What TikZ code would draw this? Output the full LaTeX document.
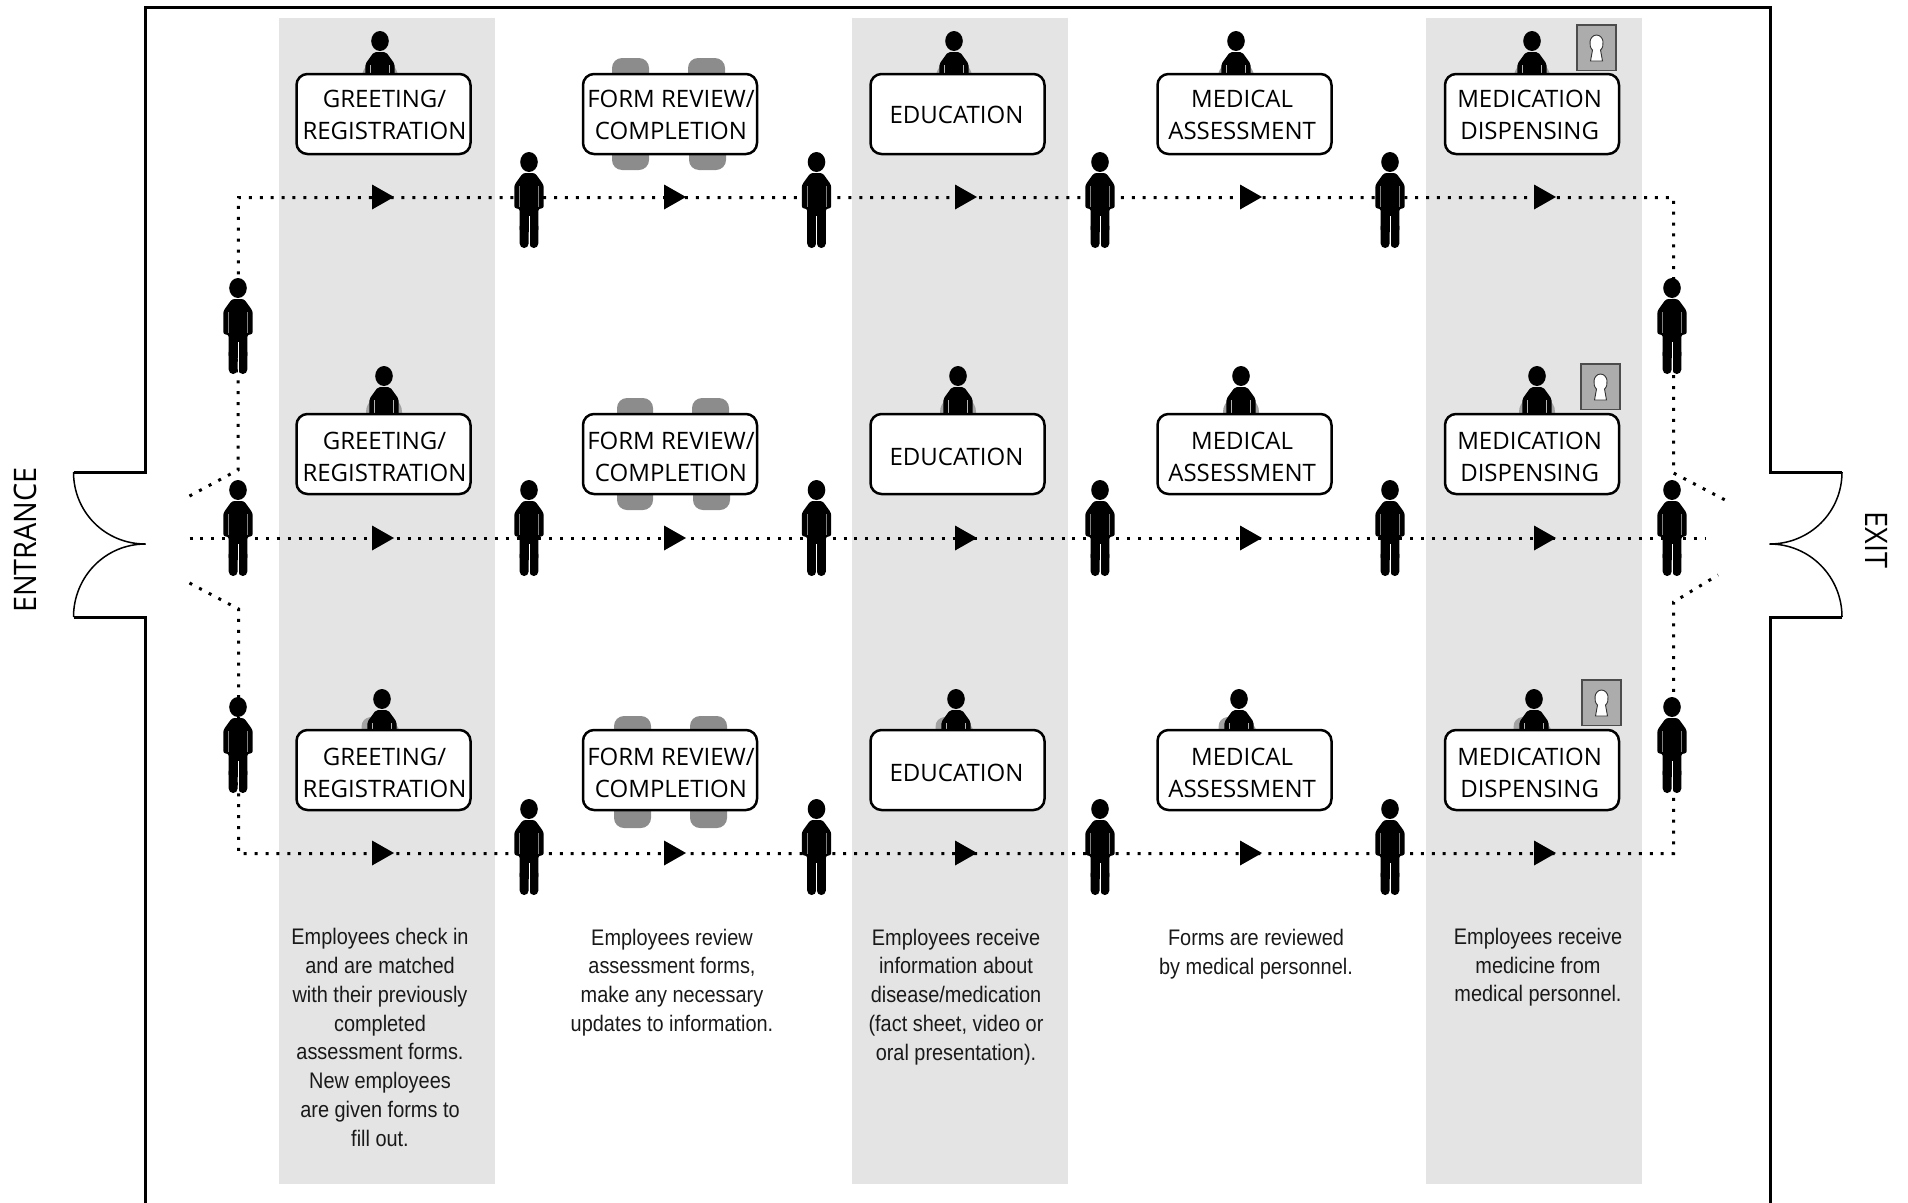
\documentclass[tikz,border=0pt]{standalone}
\usepackage{fontspec}
\newfontfamily\boxfont{Open Sans}
\newfontfamily\sidefont[FakeStretch=0.93]{Open Sans}
\newfontfamily\capfont[FakeStretch=0.885]{Liberation Sans}
\definecolor{band}{HTML}{E4E4E4}
\definecolor{chair}{HTML}{8C8C8C}
\definecolor{lockg}{HTML}{ACACAC}
\tikzset{
  wall/.style={line width=3pt,line join=miter},
  doorleaf/.style={line width=1.5pt},
  path line/.style={line width=3pt,dash pattern=on 3pt off 7.9pt},
  stationbox/.style={draw=black,line width=2.5pt,fill=white,rounded corners=11pt,minimum width=174pt,minimum height=80pt,inner sep=0pt},
  stationtext/.style={inner sep=0pt,align=center,font=\boxfont\fontsize{24}{32}\selectfont},
  captiontext/.style={inner sep=0pt,align=center,font=\capfont\fontsize{22.5}{28.8}\selectfont,text=black!90},
  sidelabel/.style={inner sep=0pt,font=\sidefont\fontsize{31}{31}\selectfont},
  person/.pic={
    \fill[black] (0,0) ellipse[x radius=8.8,y radius=10];
    \fill[black,rounded corners=2.5pt] (-6,11)--(6,11)--(14.7,23)--(14.7,46.5)--(9.3,46.5)--(9.3,70)--(-9.3,70)--(-9.3,46.5)--(-14.7,46.5)--(-14.7,23)--cycle;
    \fill[black,rounded corners=4.4pt] (-9.3,60) rectangle (-.4,86);
    \fill[black,rounded corners=4.4pt] (.4,60) rectangle (9.3,86);
    \fill[black] (-9.3,50) rectangle (9.3,66);
    \draw[white,line width=.8pt] (0,54)--(0,86);
    \draw[gray,line width=.7pt] (-9.4,24)--(-9.4,45) (9.4,24)--(9.4,45);
  },
  seated/.pic={
    \fill[chair!80] (-18,42) -- (-18,36) .. controls (-18,30) and (-15,26) .. (-12,24) -- (12,24) .. controls (15,26) and (18,30) .. (18,36) -- (18,42) -- cycle;
    \fill[black] (0,0) ellipse[x radius=8.8,y radius=10];
    \fill[black,rounded corners=2pt] (-6,11)--(6,11)--(14.7,23)--(14.7,42)--(-14.7,42)--(-14.7,23)--cycle;
    \draw[gray!60,line width=.7pt] (-9.4,24)--(-9.4,42) (9.4,24)--(9.4,42);
  },
  seatedshade/.pic={
    \fill[chair!80] (-20.5,34) -- (-20.5,28) .. controls (-20.5,22) and (-17,19) .. (-12,18) -- (0,18) -- (0,34) -- cycle;
  },
  flowhead/.pic={\fill[black] (-11,-12.5)--(11,0)--(-11,12.5)--cycle;},
}
\begin{document}
\begin{tikzpicture}[x=1pt,y=-1pt]
\useasboundingbox (0,0) rectangle (1908,1202);
% grey bands
\foreach \xa/\xb in {279/495,852/1068,1426/1642}
  \fill[band] (\xa,18) rectangle (\xb,1184);
% walls and doors
\coordinate (wl) at (145.5,7);
\coordinate (wr) at (1770,7);
\draw[wall] (145.5,1204)--(145.5,617)--(73.5,617);
\draw[wall] (73.5,472)--(145.5,472)--(wl)--(wr)--(1770,472)--(1842,472);
\draw[wall] (1842,617)--(1770,617)--(1770,1204);
\draw[doorleaf] (73.5,472) .. controls (73.5,512) and (105,544) .. (145.5,544);
\draw[doorleaf] (73.5,617) .. controls (73.5,577) and (105,544) .. (145.5,544);
\draw[doorleaf] (1842,472) .. controls (1842,512) and (1810,544) .. (1769.5,544);
\draw[doorleaf] (1842,617) .. controls (1842,577) and (1810,544) .. (1769.5,544);
\node[sidelabel,rotate=90] (entrance) at (25,540) {ENTRANCE};
\node[sidelabel,rotate=-90] (exit) at (1877,540) {EXIT};
% walking routes
\coordinate (t1) at (189.5,496); \coordinate (t2) at (238,470); \coordinate (t3) at (238.5,197.5);
\coordinate (t4) at (1673.5,197.5); \coordinate (t5) at (1673.5,473); \coordinate (t6) at (1727,501);
\coordinate (m1) at (189.5,538.5); \coordinate (m2) at (1706,538.5);
\coordinate (b1) at (189.5,583); \coordinate (b2) at (238.5,609); \coordinate (b3) at (238.5,853.5);
\coordinate (b4) at (1673.5,853.5); \coordinate (b5) at (1673.5,602); \coordinate (b6) at (1718,575);
\draw[path line] (t1)--(t2)--(t3)--(t4)--(t5)--(t6);
\draw[path line] (m1)--(m2);
\draw[path line] (b1)--(b2)--(b3)--(b4)--(b5)--(b6);
% flow arrowheads
\foreach \y in {197,538,853}
  \foreach \x in {383,675,966,1251,1545}
    \pic at (\x,\y) {flowhead};
% standing people
\foreach \y in {162,490,809}
  \foreach \x in {529,816.5,1100,1390}
    \pic at (\x,\y) {person};
\foreach \x/\y in {238/288,1672/288,238/490,1672/490,238/707,1672/707}
  \pic at (\x,\y) {person};
% seated staff
\foreach \x/\y in {382/699,956/699,1239/699,1534/699}
  \pic at (\x,\y) {seatedshade};
\foreach \x/\y in {380/41,954/41,1236/41,1532/41,384/376,958/376,1241/376,1537/376,382/699,956/699,1239/699,1534/699}
  \pic at (\x,\y) {seated};
% chairs
\foreach \xa/\xb/\ya/\yb in {
  612/649/58/100,688/725/58/100,612/649/130/170,689/726/130/170,
  617/653/398/440,692/729/398/440,617/653/470/510,693/730/470/510,
  614/651/716/760,690/727/716/760,614/651/785/828,690/727/785/828}
  \fill[chair,rounded corners=10pt] (\xa,\ya) rectangle (\xb,\yb);
% stations
\foreach \r/\y/\d in {1/114/1,2/454/2.5,3/770/3}{
  \node[stationbox] (greet\r) at (383.5,\y) {};
  \node[stationbox] (form\r) at (670,\y) {};
  \node[stationbox] (edu\r) at (957.5,\y) {};
  \node[stationbox] (med\r) at (1244.5,\y) {};
  \node[stationbox] (disp\r) at (1532,\y) {};
  \node[stationtext] (greetlabel\r) at ([shift={(1,\d)}]greet\r.center) {GREETING/\\REGISTRATION};
  \node[stationtext] (formlabel\r) at ([shift={(1,\d)}]form\r.center) {FORM REVIEW/\\COMPLETION};
  \node[stationtext] (edulabel\r) at ([shift={(-1,\d)}]edu\r.center) {EDUCATION};
  \node[stationtext] (medlabel\r) at ([shift={(-2.4,\d)}]med\r.center) {MEDICAL\\ASSESSMENT};
  \node[stationtext] (displabel\r) at ([shift={(-2.4,\d)}]disp\r.center) {MEDICATION\\DISPENSING};
}
% locks
\foreach \x/\y in {1577/25,1581/364,1582/680}{
  \fill[lockg,draw=black!70,line width=1.2pt] (\x,\y) rectangle ++(39,45.5);
  \fill[white,draw=black!80,line width=.9pt] (\x+15.5,\y+25) .. controls (\x+11.5,\y+22) and (\x+11.5,\y+10.5) .. (\x+19.5,\y+10)
    .. controls (\x+27.5,\y+10.5) and (\x+27.5,\y+22) .. (\x+23.5,\y+25) -- (\x+25.5,\y+36) -- (\x+13.5,\y+36) -- cycle;
}
% captions
\node[captiontext] (c1) at (380,1037.5) {Employees check in\\and are matched\\with their previously\\completed\\assessment forms.\\New employees\\are given forms to\\fill out.};
\node[captiontext] (c2) at (672,982.4) {Employees review\\assessment forms,\\make any necessary\\updates to information.};
\node[captiontext] (c3) at (956,996.9) {Employees receive\\information about\\disease/medication\\(fact sheet, video or\\oral presentation).};
\node[captiontext] (c4) at (1256,953.9) {Forms are reviewed\\by medical personnel.};
\node[captiontext] (c5) at (1538,967.2) {Employees receive\\medicine from\\medical personnel.};
\end{tikzpicture}
\end{document}
